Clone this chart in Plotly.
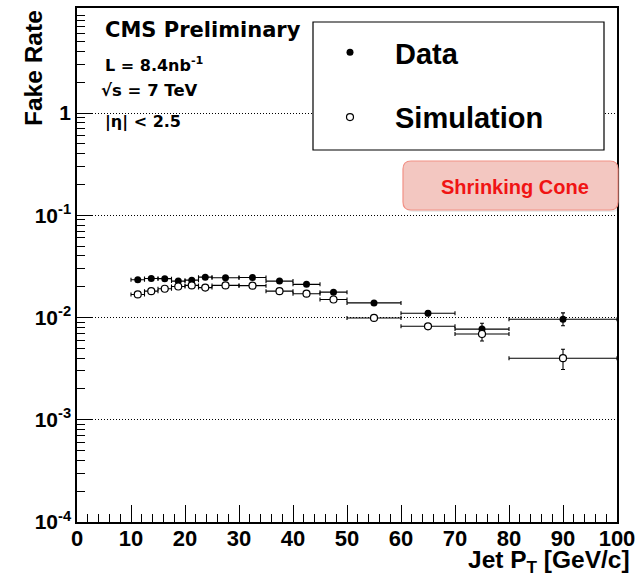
import plotly.graph_objects as go

# ---------------- data ----------------
jet_pt = [11.25, 13.75, 16.25, 18.75, 21.25, 23.75, 27.5, 32.5, 37.5, 42.5, 47.5, 55, 65, 75, 90]
jet_pt_halfwidth = [1.25, 1.25, 1.25, 1.25, 1.25, 1.25, 2.5, 2.5, 2.5, 2.5, 2.5, 5, 5, 5, 10]

data_rate = [0.0234, 0.0241, 0.0240, 0.0227, 0.0232, 0.0248, 0.0245, 0.0246, 0.0227, 0.0211,
             0.0177, 0.0139, 0.0110, 0.0077, 0.0096]
data_err_up = [0.0006, 0.0006, 0.0006, 0.0006, 0.0006, 0.0006, 0.0006, 0.0006, 0.0006, 0.0006,
               0.0006, 0.0005, 0.0006, 0.0011, 0.0015]
data_err_dn = [0.0006, 0.0006, 0.0006, 0.0006, 0.0006, 0.0006, 0.0006, 0.0006, 0.0006, 0.0006,
               0.0006, 0.0005, 0.0006, 0.0010, 0.0013]

sim_rate = [0.0168, 0.0181, 0.0191, 0.0201, 0.0206, 0.0196, 0.0206, 0.0205, 0.0181, 0.0171,
            0.0150, 0.0099, 0.0082, 0.0069, 0.0040]
sim_err_up = [0.0004, 0.0004, 0.0004, 0.0004, 0.0004, 0.0004, 0.0004, 0.0004, 0.0004, 0.0004,
              0.0004, 0.0004, 0.0005, 0.0008, 0.0009]
sim_err_dn = [0.0004, 0.0004, 0.0004, 0.0004, 0.0004, 0.0004, 0.0004, 0.0004, 0.0004, 0.0004,
              0.0004, 0.0004, 0.0005, 0.0010, 0.0009]

x_tick_vals = [0, 10, 20, 30, 40, 50, 60, 70, 80, 90, 100]
y_tick_vals = [1e-4, 1e-3, 1e-2, 1e-1, 1]
y_tick_text = ["10<sup>-4</sup>", "10<sup>-3</sup>", "10<sup>-2</sup>", "10<sup>-1</sup>", "1"]
y_minor_vals = [m * 10.0 ** e for e in range(-4, 1) for m in range(2, 10)]

series_names = ["Data", "Simulation"]

# ---------------- geometry helpers (pixel -> paper) ----------------
W, H = 637, 576
ML, MR, MT, MB = 77, 20, 8, 54
PW, PH = W - ML - MR, H - MT - MB


def px(x):
    return (x - ML) / PW


def py(y):
    return (H - MB - y) / PH


ARIAL = "Liberation Sans, Arial, Helvetica, sans-serif"
DEJAVU = "DejaVu Sans, Liberation Sans, sans-serif"

fig = go.Figure()

fig.add_trace(go.Scatter(
    x=jet_pt, y=data_rate, mode="markers", name=series_names[0],
    legendgroup="a",
    marker=dict(symbol="circle", size=7, color="black", line=dict(width=0)),
    error_x=dict(type="data", array=jet_pt_halfwidth, color="black", thickness=1.1, width=2),
    error_y=dict(type="data", symmetric=False, array=data_err_up, arrayminus=data_err_dn,
                 color="black", thickness=1.1, width=2),
))
fig.add_trace(go.Scatter(
    x=jet_pt, y=sim_rate, mode="markers", name=series_names[1],
    legendgroup="b",
    marker=dict(symbol="circle", size=7, color="white", line=dict(width=1.2, color="black")),
    error_x=dict(type="data", array=jet_pt_halfwidth, color="black", thickness=1.1, width=2),
    error_y=dict(type="data", symmetric=False, array=sim_err_up, arrayminus=sim_err_dn,
                 color="black", thickness=1.1, width=2),
))

# legend frame
fig.add_shape(type="rect", xref="paper", yref="paper",
              x0=px(313), x1=px(604), y0=py(150), y1=py(22),
              line=dict(color="black", width=1.2), fillcolor="white", layer="above")


# Shrinking cone rounded box (with faint shadow)
def rounded(x0p, y0p, x1p, y1p, r):
    x0, x1 = px(x0p), px(x1p)
    y0, y1 = py(y1p), py(y0p)
    rx, ry = r / PW, r / PH
    return (f"M {x0+rx},{y0} L {x1-rx},{y0} Q {x1},{y0} {x1},{y0+ry} "
            f"L {x1},{y1-ry} Q {x1},{y1} {x1-rx},{y1} L {x0+rx},{y1} "
            f"Q {x0},{y1} {x0},{y1-ry} L {x0},{y0+ry} Q {x0},{y0} {x0+rx},{y0} Z")


fig.add_shape(type="path", xref="paper", yref="paper", path=rounded(405, 163, 620, 212, 8),
              line=dict(width=0), fillcolor="rgba(0,0,0,0.08)", layer="above")
fig.add_shape(type="path", xref="paper", yref="paper", path=rounded(403, 161, 618, 210, 8),
              line=dict(color="rgb(242,145,134)", width=1.2), fillcolor="rgb(243,199,193)",
              layer="above")

annotations = [
    dict(text="Shrinking Cone", x=px(515), y=py(187), font=dict(family=ARIAL, size=20, color="rgb(240,20,20)", weight="bold"),
         xanchor="center", yanchor="middle"),
    dict(text="CMS Preliminary", x=px(103), y=py(30), font=dict(family=DEJAVU, size=21, color="black", weight="bold"),
         xanchor="left", yanchor="middle"),
    dict(text="L = 8.4nb<sup>-1</sup>", x=px(103), y=py(64.5), font=dict(family=DEJAVU, size=16, color="black", weight="bold"),
         xanchor="left", yanchor="middle"),
    dict(text="√s = 7 TeV", x=px(99), y=py(91), font=dict(family=DEJAVU, size=16.5, color="black", weight="bold"),
         xanchor="left", yanchor="middle"),
    dict(text="|η| < 2.5", x=px(103), y=py(121.5), font=dict(family=DEJAVU, size=16, color="black", weight="bold"),
         xanchor="left", yanchor="middle"),
    dict(text="Fake Rate", x=px(33), y=py(8), textangle=-90, font=dict(family=ARIAL, size=24.5, color="black", weight="bold"),
         xanchor="center", yanchor="top"),
    dict(text="Jet P<sub>T</sub> [GeV/c]", x=px(632), y=py(579), font=dict(family=ARIAL, size=24.5, color="black", weight="bold"),
         xanchor="right", yanchor="bottom"),
]
for a in annotations:
    a.update(xref="paper", yref="paper", showarrow=False)
    fig.add_annotation(**a)

fig.update_layout(
    width=W, height=H,
    margin=dict(l=ML, r=MR, t=MT, b=MB, pad=0, autoexpand=False),
    paper_bgcolor="white", plot_bgcolor="white",
    showlegend=True,
    legend=dict(x=px(305), y=py(27), xanchor="left", yanchor="top",
                bgcolor="rgba(0,0,0,0)", borderwidth=0,
                font=dict(family=ARIAL, size=29, color="black", weight="bold"),
                itemwidth=80, tracegroupgap=24, traceorder="grouped"),
    xaxis=dict(range=[0, 100], tickvals=x_tick_vals, ticks="inside", ticklen=17, tickwidth=1.2,
               tickcolor="black", showline=True, linecolor="black", linewidth=1.5, mirror=True,
               showgrid=False, zeroline=False, ticklabelstandoff=-4,
               tickfont=dict(family=ARIAL, size=22, color="black", weight="bold"),
               minor=dict(dtick=2, ticks="inside", ticklen=8, tickwidth=1.2, tickcolor="black", showgrid=False)),
    yaxis=dict(type="log", range=[-4, 1.027], tickmode="array", tickvals=y_tick_vals, ticktext=y_tick_text,
               ticks="inside", ticklen=16, tickwidth=1.2, tickcolor="black",
               showline=True, linecolor="black", linewidth=1.5, mirror=True,
               showgrid=True, gridcolor="black", griddash="1px,2px", gridwidth=1, zeroline=False,
               tickfont=dict(family=ARIAL, size=21, color="black", weight="bold"),
               minor=dict(tickmode="array", tickvals=y_minor_vals, ticks="inside", ticklen=8,
                          tickwidth=1.2, tickcolor="black", showgrid=False)),
)

fig.write_html("out.html")
